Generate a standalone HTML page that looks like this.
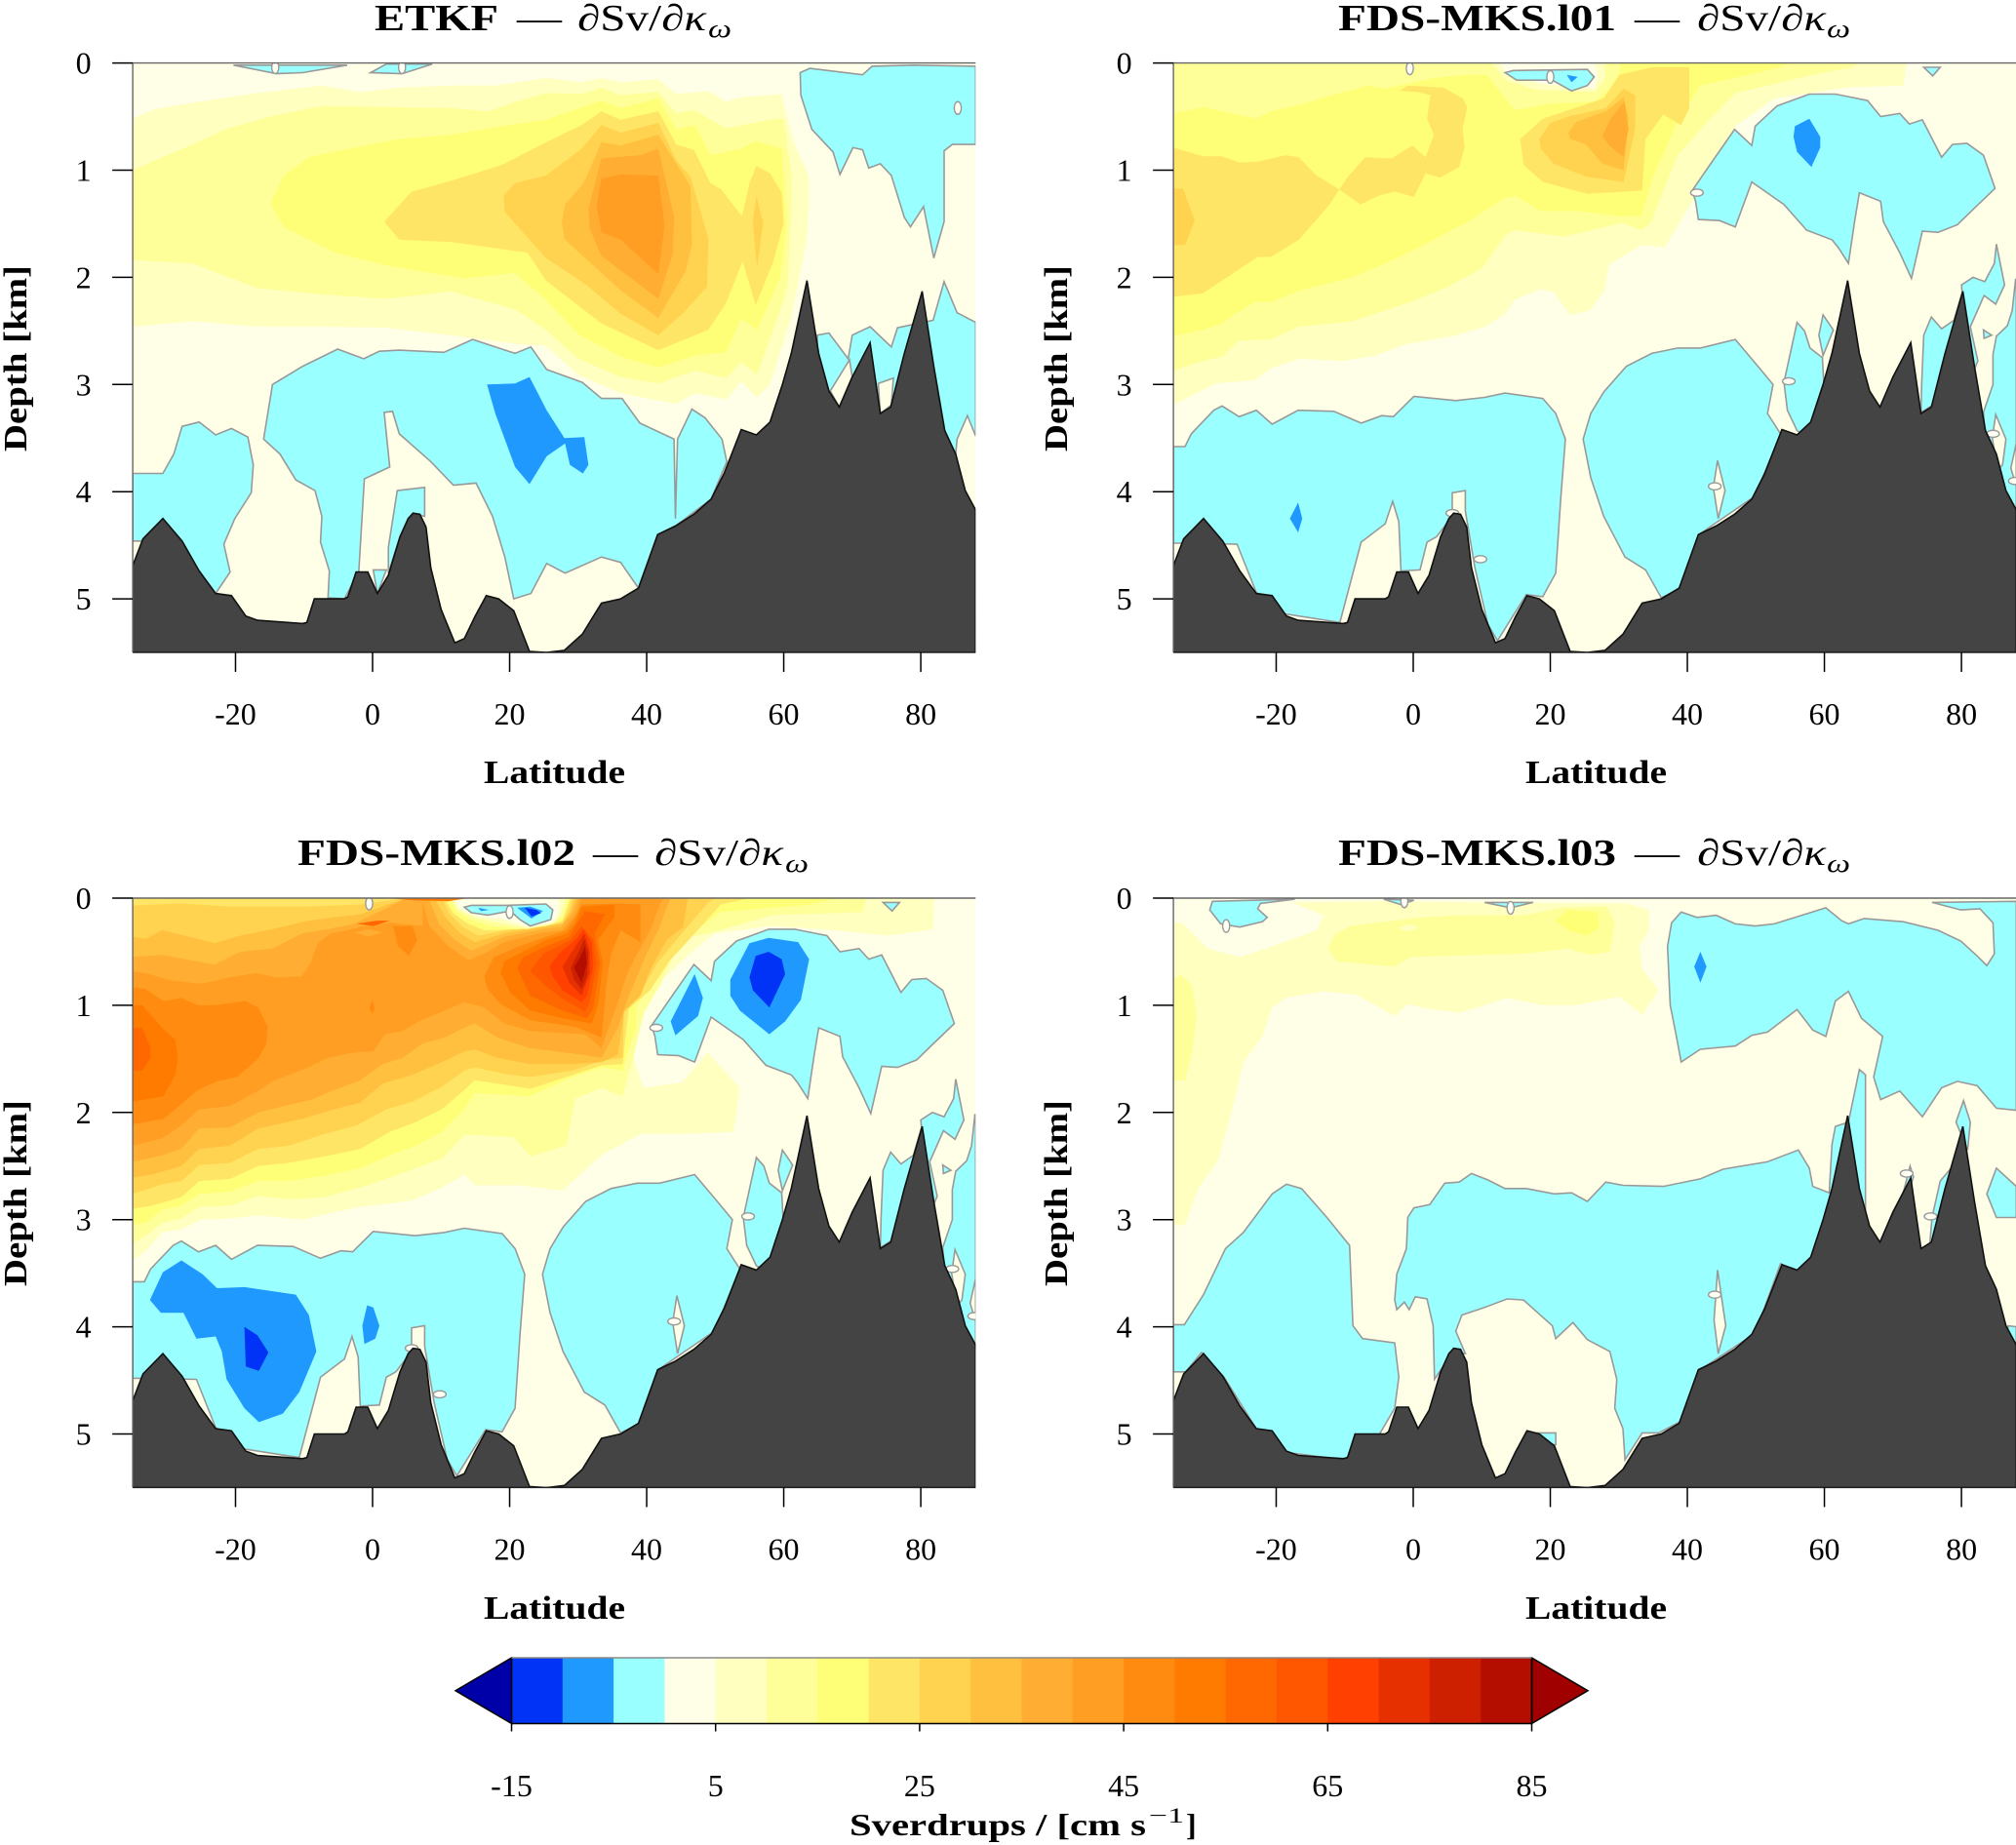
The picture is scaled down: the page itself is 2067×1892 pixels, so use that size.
<!DOCTYPE html>
<html lang="en"><head><meta charset="utf-8"><title>Sverdrup sensitivity sections</title>
<style>
html,body{margin:0;padding:0;background:#fff}
svg{display:block}
text{font-family:"Liberation Serif","DejaVu Serif",serif;fill:#000}
.b{font-weight:bold}
</style></head><body>
<svg id="chart" xmlns="http://www.w3.org/2000/svg" width="2067" height="1892" viewBox="0 0 2067 1892">
<rect width="2067" height="1892" fill="#fff"/>
<g id="panels"></g>
<g font-size="38">
<g><text class="b" x="384" y="31" textLength="127" lengthAdjust="spacingAndGlyphs">ETKF</text><text x="530" y="31" textLength="46" lengthAdjust="spacingAndGlyphs">—</text><text x="592" y="31" textLength="132" lengthAdjust="spacingAndGlyphs">∂Sv/∂<tspan font-style="italic">κ</tspan></text><text x="726" y="38" font-size="26" font-style="italic" textLength="24" lengthAdjust="spacingAndGlyphs">ω</text></g>
<g><text class="b" x="1372" y="31" textLength="285" lengthAdjust="spacingAndGlyphs">FDS-MKS.l01</text><text x="1676" y="31" textLength="46" lengthAdjust="spacingAndGlyphs">—</text><text x="1740" y="31" textLength="132" lengthAdjust="spacingAndGlyphs">∂Sv/∂<tspan font-style="italic">κ</tspan></text><text x="1873" y="38" font-size="26" font-style="italic" textLength="24" lengthAdjust="spacingAndGlyphs">ω</text></g>
<g><text class="b" x="305" y="887" textLength="285" lengthAdjust="spacingAndGlyphs">FDS-MKS.l02</text><text x="608" y="887" textLength="46" lengthAdjust="spacingAndGlyphs">—</text><text x="671" y="887" textLength="132" lengthAdjust="spacingAndGlyphs">∂Sv/∂<tspan font-style="italic">κ</tspan></text><text x="805" y="894" font-size="26" font-style="italic" textLength="24" lengthAdjust="spacingAndGlyphs">ω</text></g>
<g><text class="b" x="1372" y="887" textLength="285" lengthAdjust="spacingAndGlyphs">FDS-MKS.l03</text><text x="1676" y="887" textLength="46" lengthAdjust="spacingAndGlyphs">—</text><text x="1740" y="887" textLength="132" lengthAdjust="spacingAndGlyphs">∂Sv/∂<tspan font-style="italic">κ</tspan></text><text x="1873" y="894" font-size="26" font-style="italic" textLength="24" lengthAdjust="spacingAndGlyphs">ω</text></g>
</g>
<g font-size="34" font-weight="bold">
<text x="496" y="803" textLength="145" lengthAdjust="spacingAndGlyphs">Latitude</text>
<text x="1564" y="803" textLength="145" lengthAdjust="spacingAndGlyphs">Latitude</text>
<text x="496" y="1660" textLength="145" lengthAdjust="spacingAndGlyphs">Latitude</text>
<text x="1564" y="1660" textLength="145" lengthAdjust="spacingAndGlyphs">Latitude</text>
<text transform="translate(27,463) rotate(-90)" textLength="191" lengthAdjust="spacingAndGlyphs">Depth [km]</text>
<text transform="translate(1094,463) rotate(-90)" textLength="191" lengthAdjust="spacingAndGlyphs">Depth [km]</text>
<text transform="translate(27,1319) rotate(-90)" textLength="191" lengthAdjust="spacingAndGlyphs">Depth [km]</text>
<text transform="translate(1094,1319) rotate(-90)" textLength="191" lengthAdjust="spacingAndGlyphs">Depth [km]</text>
</g>
<g id="colorbar"></g>
<g font-size="32" font-weight="bold">
<text x="871" y="1882" textLength="304" lengthAdjust="spacingAndGlyphs">Sverdrups / [cm s</text>
<text x="1178" y="1869" font-size="22" font-weight="normal" textLength="36" lengthAdjust="spacingAndGlyphs">−1</text>
<text x="1216" y="1882">]</text>
</g>
</svg>
<script>
// ---------- shared axis data ----------
const latTicks = [-20, 0, 20, 40, 60, 80];
const depthTicks = [0, 1, 2, 3, 4, 5];
const bandLower = [-20,-15,-10,-5,0,5,10,15,20,25,30,35,40,45,50,55,60,65,70,75,80,85];
const bandColors = ['#0000a8','#0033f5','#2099ff','#99ffff','#ffffe8','#ffffc0','#ffff99','#ffff77','#ffe566','#ffd24f','#ffc040','#ffad33','#ff9e22','#ff8c11','#ff7b00','#ff6800','#ff5600','#ff4000','#e63000','#cc2000','#b30e00','#a00000'];
const colorbarTicks = [-15, 5, 25, 45, 65, 85];
const bathyLat = [-35,-33.5,-30.6,-27.8,-25.3,-22.9,-20.6,-18.5,-16.8,-10.2,-9.6,-8.5,-4.1,-3.6,-2.4,-0.7,0.7,2.3,4,5.2,5.9,6.9,7.8,8.5,10,12,13.4,14.9,16.6,18.4,20.6,22.9,25.4,28,30.6,33.4,36.2,38.8,41.6,44.2,46.9,49.4,51.3,53.8,56,58,59.8,61.1,63.4,65.1,66.6,68.1,70,72.6,74.1,75.6,77.6,80.2,81.9,83.5,85.1,86.5,88];
const bathyDepth = [4.69,4.44,4.25,4.46,4.74,4.95,4.97,5.16,5.2,5.23,5.22,5,5,4.98,4.75,4.75,4.95,4.78,4.42,4.25,4.2,4.21,4.33,4.71,5.1,5.41,5.37,5.17,4.97,5,5.11,5.49,5.5,5.48,5.33,5.04,5,4.9,4.4,4.32,4.21,4.07,3.83,3.42,3.47,3.35,3,2.71,2.03,2.71,3.06,3.21,2.93,2.61,3.27,3.21,2.71,2.13,2.83,3.43,3.65,3.99,4.17];

// ---------- contour data: [band lower bound, [lat,depth,...], outlined?] ----------
const etkfContours = [
[5,[-35,.52,-31.8,.43,-26.2,.37,-16.8,.28,-7.4,.21,-1.8,.27,3.9,.23,11.4,.21,17.9,.21,25.3,.14,30.5,.18,33.4,.14,36.2,.18,41.7,.15,44.3,.29,49,.26,51.6,.36,53.8,.32,59.7,.29,61.4,.73,63.7,1.06,63.7,1.33,63.3,1.67,61,2.4,58,3,56.1,3.12,53.8,2.97,51.6,3.14,47.1,3.08,44.3,3.18,41.7,3.15,36.2,3.08,30,2.91,25.3,2.64,20.8,2.62,11.4,2.54,2,2.47,-7.4,2.46,-16.8,2.46,-26.2,2.41,-35,2.46]],
[10,[-35,1,-31.8,.91,-26.2,.76,-21.5,.62,-14.9,.5,-7.4,.4,2,.41,11.4,.42,17,.45,21,.36,25.3,.28,30.5,.29,33.4,.23,36.2,.3,41.7,.27,44.3,.47,46.9,.44,51.6,.61,58,.53,60,.52,61.1,1.03,61.1,1.36,60.6,2.06,60,2.21,56.1,2.91,53.8,2.79,51.6,2.94,47.1,2.87,44.3,2.93,41.7,2.99,36.2,2.93,30,2.76,25.3,2.49,20.8,2.3,11.4,2.13,2,2.2,-7.4,2.16,-16.8,2.1,-26.2,1.87,-35,1.84]],
[15,[-14.9,1.31,-13,1.05,-9.3,.88,-1.8,.78,3.9,.71,11.4,.67,18.9,.59,25.3,.53,33.4,.35,36.2,.42,41.7,.33,44.3,.62,47.1,.58,49.3,.86,53.8,.8,55.9,.73,59.7,.8,60.4,1.52,59.5,2,56.1,2.49,53.8,2.38,51.6,2.7,47.1,2.73,41.7,2.84,36.2,2.74,30,2.53,25.3,2.21,20.8,1.96,13.2,2.01,2,1.89,-5.5,1.77,-13,1.53]],
[20,[1.7,1.48,5.7,1.2,11.4,1.1,18.9,.95,25.3,.74,30.5,.58,33.4,.45,36.2,.53,41.7,.45,44.3,.76,46.9,.81,49.3,1.12,50.9,1.18,53.9,1.43,55,1.12,56,.96,58,1.03,59.7,1.21,60,1.49,58.5,1.85,55.9,2.26,54,1.85,51.6,2.24,49,2.49,41.7,2.68,33.4,2.43,25.3,2.03,22.6,1.77,11.4,1.67,3.9,1.65]],
[25,[19.1,1.24,20.8,1.12,25.3,1.05,30.5,.8,33.4,.58,36.2,.65,41.7,.56,44.3,.91,46.4,1.06,49,1.64,48.8,2.09,45.2,2.34,41.7,2.54,36.2,2.34,31,2.06,25.3,1.82,19.3,1.39]],
[25,[55.5,1.49,56,1.24,57,1.49,56.1,1.91]],
[30,[27.6,1.49,28.1,1.32,30.8,1.12,33.4,.74,36.2,.77,41.7,.67,46.4,1.15,46.6,1.7,45.7,1.94,41.7,2.38,36.2,2.12,30.5,1.79,28.1,1.65]],
[35,[31.5,1.36,33.4,.89,39.1,.86,41.7,.8,44,1.43,43.8,1.79,41.7,2.2,33.4,1.8,31.7,1.55]],
[40,[32.7,1.33,33.4,1.08,36.2,1.04,41.7,1.05,42.6,1.52,41.7,1.97,36.2,1.65,33.4,1.58]],
[-5,[-35,3.83,-30.6,3.83,-29,3.65,-27.8,3.39,-25.3,3.35,-22.9,3.47,-20.6,3.41,-18.2,3.49,-17.4,3.75,-17.7,4.01,-20.1,4.25,-21.7,4.49,-20.8,4.75,-22.9,4.95,-26.2,4.66,-28,4.46,-35,4.46],true],
[-5,[-15.9,3.51,-14.6,3,-10.2,2.83,-5.1,2.67,-1.3,2.76,1,2.69,3.9,2.68,10.4,2.7,14.6,2.58,20.8,2.71,23.1,2.65,25.4,2.86,30.6,2.98,33.4,3.13,36.4,3.13,39,3.36,44,3.51,44.2,4.25,44.5,3.51,46.6,3.23,48.5,3.31,51,3.51,51.7,3.72,49.4,4.07,44.2,4.32,41.6,4.4,38.8,4.9,36.2,4.66,33.4,4.61,28.1,4.76,25.4,4.67,23.1,4.95,20.6,5,19.3,4.61,17.5,4.23,15.1,3.92,11.8,3.94,8.5,3.72,3.9,3.46,2.9,3.25,1.7,3.26,2.5,3.77,-1.2,3.88,-2,4.74,-4.1,5,-6.5,4.99,-6.3,4.74,-7.6,4.47,-7.4,4.23,-8.4,3.99,-11.2,3.89,-13.5,3.65],true],
[-10,[16.7,3,20.8,2.99,22.9,2.93,25.4,3.24,28,3.5,30.9,3.49,31.5,3.75,30.7,3.83,28.8,3.75,28.1,3.55,25.4,3.67,22.9,3.93,20.8,3.77,17.9,3.27]],
[-5,[3.6,3.99,7.6,3.96,7.6,4.23,5.9,4.2,4,4.42,2.3,4.76,2.3,4.52],true],
[-5,[.1,4.73,2,4.73,.7,4.95],true],
[-5,[62.4,.09,63.8,.05,71.5,.11,72.9,.03,79,.02,88,.03,88,.76,84.6,.76,83.4,.82,83.4,1.48,81.9,1.82,80.4,1.34,78.5,1.53,77.6,1.44,75.7,1.05,74.1,.94,72.4,.98,71.5,.81,70.1,.79,68.2,1.04,67.2,.83,64.1,.62,62.5,.3],true],
[-5,[-20.3,.02,-3.7,.02,-10.2,.09,-14,.1],true],
[-5,[-.3,.09,2,.01,8.7,.01,4.3,.1],true],
[-5,[64.9,2.54,66.6,2.52,69.4,2.76,70,2.54,72.6,2.46,75.7,2.65,76.6,2.47,81.8,2.4,83.4,2.04,85.3,2.33,88,2.42,88,3.48,86.8,3.29,85.3,3.51,85.1,3.65,80,3.4,76,3.4,70,3.4,65,3.2],true],
[0,[66.8,3.06,69.6,2.77,70,2.93,68.1,3.21],true],
[0,[73.8,2.99,76,2.94,75.7,3.19,74.1,3.27],true]
];

const sharedLeftCyan = [-35,3.58,-33.3,3.58,-32.4,3.46,-29.1,3.24,-27.9,3.2,-25.4,3.3,-22.9,3.24,-20.6,3.37,-16.8,3.24,-11.6,3.25,-7.6,3.36,-4.6,3.29,-2.9,3.3,.1,3.11,6.2,3.15,10.4,3.12,13.4,3.08,18.9,3.13,20.8,3.27,22.2,3.51,21.5,4.08,20.8,4.76,18.9,4.98,16.5,4.96,12.3,5.39,10.9,5.24,9,4.71,7.6,4.18,7.6,3.99,5.7,4.01,5.7,4.23,3.4,4.42,2,4.47,1,4.73,-1.8,4.74,-2.1,4.28,-3,4.09,-4.1,4.3,-7.6,4.47,-10.7,5.22,-18.7,5.14,-22.9,4.94,-25.7,4.49,-33,4.48,-35,4.48];
const sharedMidCyan = [24.8,3.51,25.9,3.27,27.8,3.07,31.1,2.83,34.8,2.71,38.6,2.66,41.9,2.66,47,2.58,50.3,2.83,52.5,3,51.7,3.27,53.6,3.46,49.9,4.04,41.9,4.39,39.1,4.9,36.2,4.99,33.9,4.73,30.9,4.61,27.8,4.23,25.9,3.87];
const sharedMidHole = [44.4,3.71,45.5,3.99,44.5,4.25,43.8,3.96];
const sharedUpperCyan = [40.7,1.19,43.3,.95,46.9,.62,49.4,.77,49.9,.59,53.1,.4,57.8,.29,61.6,.29,66.3,.35,68.2,.5,71,.47,72.4,.57,74.3,.53,77.1,.88,78.7,.76,80.8,.75,83.2,.86,84.9,1.17,81.8,1.36,79.4,1.51,76.6,1.58,74.3,1.57,72.7,2.01,71,1.77,68.6,1.48,68.2,1.29,65.1,1.21,64.4,1.48,63.5,1.87,62,1.72,61.1,1.65,57.4,1.56,54.1,1.32,49.4,1.11,47,1.53,44.7,1.47,41.6,1.46,41.2,1.29];
const sharedRightA = [54.1,2.98,56,2.42,57.1,2.5,57.9,2.66,59.7,2.75,60,3.1,58,3.5,56,3.43,54.6,3.24];
const sharedRightB = [59.8,2.35,61.3,2.49,59.8,2.73,59.2,2.54];
const sharedRightC = [74.5,2.54,75.6,2.37,77.1,2.48,78.9,2.4,80.1,2.14,80,2.07,81.7,2,83.4,2.04,84.8,1.87,85.1,1.69,86.3,2.07,85,2.25,83.3,2.17,81.3,2.46,82.4,2.78,81,3,77,3.4,75.6,3.2,74.1,3.26,74.2,2.99];
const sharedRightD = [83.2,2.49,84.4,2.54,83.3,2.57];
const sharedRightE = [87.9,2.02,87.4,2.31,86.7,2.45,85.1,2.55,84.6,2.72,84.6,3,83.2,3.26,83.5,3.5,85,4,87,4.3,88,4.2,88,2.02];
const sharedRightHoleA = [85,3.28,86.5,3.51,86,3.75,85.3,3.8,84.5,3.5];
const sharedRightHoleB = [88,3.55,87.2,3.78,88,3.95];
const sharedTopTiny = [74.5,.04,76.9,.04,75.8,.12];

const l01Contours = [
[5,[-35,3.19,-28.8,2.99,-23.1,2.96,-20.8,2.85,-16.5,2.76,-10.3,2.78,-5.6,2.73,-.8,2.62,5.8,2.55,10.5,2.46,13.4,2.34,14.8,2.21,18.6,2.11,20.5,2.14,22.9,2.35,25.7,2.31,27.9,2.12,28.6,1.88,33.3,1.7,36.7,1.72,40.9,1.27,47,.59,52.7,.33,63,.23,71.5,.21,72,0,-35,0]],
[10,[-35,2.87,-30.7,2.78,-27.9,2.74,-25.5,2.59,-20.8,2.58,-16.7,2.46,-8.9,2.41,-5.6,2.34,-.4,2.23,5.3,2.08,10.1,1.91,13.4,1.61,14.8,1.56,21.9,1.62,26.7,1.55,30.5,1.49,33.3,1.56,34.7,1.49,36.2,1.24,38.6,.86,43.3,.52,47,.28,58.3,.11,64,.04,65,0,-35,0]],
[15,[-35,2.55,-30.7,2.49,-27.9,2.43,-26,2.34,-23.1,2.23,-20.8,2.23,-16.5,2.12,-8.9,2,-2.7,1.83,1.5,1.7,7.7,1.49,13.4,1.26,14.8,1.24,18.6,1.38,23.8,1.38,30.5,1.43,33.3,1.43,35,1.06,38.6,.54,41.9,.21,53.6,.04,54.6,0,30.2,0,30.2,.08,28.6,.24,26.7,.36,20,.38,14.8,.44,10.8,.11,7.7,.11,3,.14,-4.2,.24,-6.5,.21,-11.3,.29,-16,.38,-20.8,.45,-22.9,.52,-30.7,.41,-35,.47]],
[20,[-35,.79,-30.7,.87,-27.9,.87,-25.3,.93,-22.7,.92,-18.6,.86,-16.7,.88,-14.1,1.05,-10.8,1.18,-12.2,1.32,-14.1,1.46,-16.7,1.65,-20.8,1.81,-22.7,1.81,-27.9,2.03,-30.7,2.15,-35,2.18]],
[20,[-10.8,1.18,-9.4,1.05,-7,.88,-3.2,.89,-.1,.77,1.8,.88,3,.67,2,.52,2.5,.3,.6,.27,-2,.26,-.8,.21,4.4,.23,7.2,.33,7.9,.41,7.2,.61,7.5,.79,6.7,.97,3.9,1.07,1.8,1.03,1.1,1.12,.1,1.25,-2.7,1.2,-5.1,1.24,-7.7,1.32]],
[20,[15.6,.71,18.9,.52,23.6,.42,27.8,.33,30.1,.11,34.8,.04,40.3,.04,40.3,.42,39.1,.58,36.5,.48,33.9,.71,33.4,1.19,25.4,1.22,18.9,1.11,16.1,.95]],
[25,[18.4,.71,20,.56,22.6,.5,28.1,.42,30.7,.24,32.4,.3,32.4,.61,30.7,1.11,25.2,1.06,20.5,.94,18.6,.8]],
[25,[-35,1.17,-33.6,1.17,-31.9,1.47,-33.3,1.7,-35,1.7]],
[30,[22.6,.65,23.8,.55,28.1,.45,30.7,.32,31.4,.52,30.7,1,27.6,.94,25.2,.76,22.9,.71]],
[35,[27.6,.68,28.8,.52,30.8,.36,31.4,.61,30.7,.88,28.6,.77]],
[10,[10.8,0,12.8,.2,17,.3,26.7,.3,29,.17,29.5,0]],
[5,[11.5,0,13.5,.16,18,.25,26.5,.27,28,.14,28,0]],
[0,[12.5,0,14,.12,19,.2,26.5,.24,27,.1,26.5,0]],
[-5,[13.4,.09,14.6,.07,25.4,.06,26.4,.13,25.4,.21,23.1,.26,20.3,.16,15.1,.16],true],
[-10,[22.4,.11,24,.13,23.1,.18]],
[-5,sharedTopTiny,true],
[-5,sharedLeftCyan,true],
[-10,[-18,4.25,-16.8,4.1,-16.2,4.25,-16.8,4.38]],
[-5,sharedMidCyan,true],
[0,sharedMidHole,true],
[-5,sharedUpperCyan,true],
[-10,[55.7,.59,57.8,.52,59.4,.69,59.4,.79,58.1,.97,56,.83,55.5,.69]],
[-5,sharedRightA,true],
[-5,sharedRightB,true],
[-5,sharedRightE,true],
[-5,sharedRightC,true],
[-5,sharedRightD,true],
[0,sharedRightHoleA,true],
[0,sharedRightHoleB,true]
];

const l02Contours = [
[5,[-35,3.38,-33.1,3.29,-30.7,3.12,-27.9,3.09,-25,3,-20.8,2.99,-16.7,2.96,-10.3,3,-5.6,2.93,-1.8,2.88,2.5,2.85,5.8,2.82,10.1,2.7,13.4,2.58,14.9,2.68,21.5,2.68,27.7,2.73,33.4,2.4,39.1,2.2,45.3,2.2,52.7,2.18,53.6,1.77,48.9,1.44,45.2,1.72,39.5,1.77,38.1,1.48,39.5,1.1,42.3,.76,46.6,.5,49.9,.33,58.3,.26,67.7,.3,75.2,.35,81.8,.29,82,0,-35,0]],
[10,[-35,3.22,-33.1,3.15,-30.7,3.03,-27.9,2.99,-25.3,2.88,-20.8,2.87,-16.7,2.78,-12.2,2.81,-7,2.79,-1.8,2.7,2.5,2.61,6.3,2.52,10.1,2.43,13.4,2.21,14.9,2.21,20.6,2.23,23,2.41,28.2,2.31,29.6,1.87,33.4,1.77,36.5,1.85,37.8,1.55,38.6,1.33,39.6,1.06,41.9,.82,44.3,.49,45.3,.38,48.9,.33,58.3,.16,71.5,.13,72,0,-35,0]],
[15,[-35,3.05,-33.1,3.03,-30.7,2.91,-27.9,2.87,-25.3,2.76,-20.8,2.74,-16.7,2.64,-12.2,2.64,-7,2.59,-1.8,2.52,2.5,2.4,6.3,2.31,10.1,2.18,13.4,1.97,14.9,1.82,23,1.85,29.1,1.67,33.4,1.58,36.5,1.61,38.4,1.21,38.6,1,41.5,.76,43.4,.55,45.3,.39,50.8,.13,63.9,.06,67.7,0,-35,0]],
[20,[-35,2.9,-32.2,2.87,-27.9,2.79,-25.3,2.64,-20.8,2.62,-16.7,2.5,-12.2,2.47,-7,2.41,-1.8,2.34,2.5,2.18,6.3,2.09,10.1,1.97,13.4,1.79,14.9,1.7,19.2,1.74,23,1.78,29.6,1.64,33.4,1.56,36.5,1.55,37.4,1.03,40.5,.86,43.4,.58,45.3,.45,50.8,.06,55,0,-35,0]],
[25,[-35,2.76,-30.7,2.67,-27.9,2.64,-25.3,2.49,-20.8,2.47,-16.7,2.34,-12.2,2.31,-7.5,2.21,-2.3,2.12,2,1.97,5.8,1.9,10.1,1.76,13.4,1.61,14.9,1.58,19.2,1.64,23,1.67,29.1,1.61,33.4,1.52,36.5,1.49,36.7,1.03,39.1,.88,41.5,.61,44.3,.39,49,.04,50,0,5,0,-1.8,.06,-10,.08,-20.8,.08,-28,.05,-35,.07]],
[30,[-35,2.61,-32.2,2.58,-27.9,2.5,-25.3,2.34,-20.8,2.31,-16.7,2.15,-10.3,2.06,-5.6,1.97,-1.8,1.91,1.5,1.73,5.8,1.65,10.5,1.52,13.4,1.43,14.9,1.41,18.2,1.49,23,1.55,29.1,1.55,33.4,1.53,35.8,1.46,36.7,1.06,39.1,.91,40.5,.67,42.9,.39,45.3,.27,46,0,5,0,-1.8,.15,-9.4,.21,-14.6,.29,-19.3,.35,-23.1,.42,-27.4,.35,-30.7,.3,-33.1,.38,-35,.36]],
[35,[-35,2.46,-30.7,2.4,-27.9,2.34,-25.3,2.15,-20.8,2.14,-16.7,2,-12.2,1.93,-8.9,1.88,-5.6,1.79,-1.8,1.7,1.5,1.55,4.4,1.49,7.2,1.36,10.5,1.3,13.4,1.21,14.9,1.17,18.2,1.3,23,1.4,30.5,1.46,33.4,1.49,35.8,1.21,37.2,.94,38.6,.73,40,.52,41.9,.27,42.9,.09,43.5,0,5,0,-2.7,.24,-6.5,.29,-10.3,.33,-14.6,.47,-19.3,.5,-23.1,.62,-30.7,.53,-35,.55]],
[40,[-35,2.31,-30.7,2.24,-27.9,2.12,-25.3,1.97,-20.8,1.94,-16.5,1.79,-14.6,1.71,-9.4,1.58,-6.5,1.49,-2.7,1.44,.1,1.43,1.8,1.27,4.4,1.24,6.7,1.15,10.1,1.06,13.4,.97,16.3,1.02,19.2,1.17,23,1.24,31,1.27,33.4,1.4,35.8,.97,37.2,.7,38.6,.52,40.5,.3,41.9,.06,42.4,0,7.3,0,7.3,.26,2.6,.23,-1.8,.27,-3.7,.3,-6.1,.33,-8,.42,-9.1,.61,-10.3,.73,-14.1,.74,-17,.7,-20.8,.74,-25,.8,-29.3,.77,-32.6,.71,-35,.68]],
[45,[-35,.83,-33.1,.85,-30.5,.96,-27.9,.93,-25.5,1,-23.1,1,-18.6,.96,-16.7,1.02,-15.3,1.2,-15.5,1.36,-16.7,1.5,-19.8,1.67,-22.7,1.71,-25.5,1.79,-28.8,1.97,-30.5,2.06,-35,2.11]],
[50,[-35,1,-33.6,1,-30.7,1.21,-28.8,1.32,-28.4,1.49,-28.8,1.65,-30.5,1.85,-35,1.9]],
[55,[-35,1.21,-33.6,1.21,-32.4,1.4,-32.4,1.49,-33.6,1.61,-35,1.61]],
[45,[3,.26,5.8,.26,6.5,.39,5.3,.54,3.7,.45]],
[45,[0,.94,.3,1.03,0,1.08,-.5,1.03]],
[35,[-2.7,.32,-.6,.29,1.5,.32,-.6,.36]],
[55,[-2.3,.24,.6,.21,2.5,.21,.1,.26]],
[45,[16.3,.73,17.7,.55,21.3,.45,25.3,.36,28.2,.3,29.6,.18,30.5,.06,35.8,.05,39.1,.06,39.1,.41,36.2,.3,34.8,.52,34.1,.82,33.4,1.3,29.6,1.2,23,1.14,18.7,.99,16.8,.85]],
[50,[18.7,.7,19.2,.59,21.3,.52,25.3,.39,28.4,.33,29.6,.23,30.5,.08,35.3,.06,35.3,.18,32.9,.39,33.6,.61,32.9,1,32,1.17,27.7,1.12,23,1.05,20.1,.88]],
[55,[21.1,.65,22,.55,25.3,.45,28.7,.36,30.1,.21,31,.12,33.9,.15,32.4,.33,33.2,.61,32.2,1.03,31.3,1.12,27.7,1.05,23,.91]],
[60,[23,.68,24.9,.52,28.9,.39,30.5,.26,32.2,.39,32.7,.61,31.7,.97,31,1.06,27.7,.94,25.3,.82]],
[65,[25.8,.64,27.2,.52,29.6,.39,30.8,.29,32,.42,32.2,.64,31.3,.91,30.5,.97,27.7,.86,26.3,.73]],
[70,[27.7,.64,29.6,.45,30.9,.33,31.7,.49,31.7,.7,30.5,.91,28.7,.79]],
[75,[28.9,.65,30.1,.5,30.9,.38,31.5,.52,31.3,.73,30.5,.85,29.4,.76]],
[80,[29.4,.65,30.3,.55,31,.45,31.3,.61,30.5,.79]],
[35,[7.3,.03,8.3,.26,11.1,.45,14,.58,16.8,.5,19.2,.41,24.9,.32,27.7,.3,29.6,.15,30.5,0,7.3,0]],
[30,[8.3,.015,9.7,.24,12,.39,14.4,.49,19.2,.36,24.9,.29,27.5,.27,29.1,.14,30.1,0,8.3,0]],
[25,[9.2,.015,10.6,.18,12.8,.33,14.9,.41,19.2,.33,24.9,.27,27.7,.24,28.9,.12,29.6,0,9.2,0]],
[20,[10.2,.015,11.3,.15,13.2,.27,15.4,.35,19.6,.3,24.9,.26,27.7,.23,28.7,.11,29.2,0,10.2,0]],
[15,[10.6,.015,11.8,.14,13.7,.23,16.3,.3,21.5,.29,25.3,.26,27.7,.21,28.4,.09,28.9,0,10.6,0]],
[10,[11.1,.015,12.3,.12,14.2,.2,17.3,.26,22.5,.29,26.3,.24,27.7,.17,28.2,.08,28.6,0,11.1,0]],
[5,[11.6,.015,12.5,.11,14.7,.18,18.2,.23,22.7,.28,26.3,.24,27.5,.15,27.9,.06,28.2,0,11.6,0]],
[0,[12,.024,13,.11,15.4,.17,19.2,.2,23,.27,26.5,.22,27.2,.14,27.2,.03,26.8,0,12,0]],
[-5,[13.4,.085,14.4,.067,19.4,.067,25.3,.055,26.3,.11,26,.2,23,.26,21.5,.2,20.1,.12,16.8,.158,14.4,.136],true],
[-10,[21.1,.09,23,.08,24.9,.12,23.2,.19]],
[-15,[22.2,.09,23.9,.11,24.6,.14,23.2,.17]],
[-10,[15.4,.09,17,.11,15.8,.12]],
[50,[2,0,6,.02,11,.03,14,0]],
[-5,sharedTopTiny,true],
[-5,sharedLeftCyan,true],
[-10,[-32.5,3.75,-30.6,3.49,-27.9,3.38,-24.8,3.51,-22.7,3.64,-18.7,3.63,-11.2,3.7,-9.3,3.89,-8.2,4.23,-10.7,4.61,-13.1,4.81,-16.6,4.89,-18.7,4.76,-21.3,4.49,-22,4.23,-22.9,4.09,-25.7,4.11,-27.6,3.87,-30.9,3.87]],
[-15,[-18.7,4,-16.8,4.08,-15.2,4.24,-16.6,4.41,-18.5,4.37]],
[-10,[-.8,3.8,.1,3.82,1,3.99,.4,4.11,-1.2,4.16,-1.5,3.99]],
[-5,sharedMidCyan,true],
[0,sharedMidHole,true],
[-5,sharedUpperCyan,true],
[-10,[47,.71,48.2,.93,47.5,1.1,44.2,1.28,43.5,1.15]],
[-10,[52.2,.76,55,.42,57.8,.37,62.1,.41,63.7,.57,62.5,.95,60.2,1.15,57.9,1.27,53.6,1.05,52.2,.91]],
[-15,[55,.74,55.9,.54,57.8,.5,59.7,.57,60.2,.71,57.9,1.02,55.5,.86]],
[-5,sharedRightA,true],
[-5,sharedRightB,true],
[-5,sharedRightE,true],
[-5,sharedRightC,true],
[-5,sharedRightD,true],
[0,sharedRightHoleA,true],
[0,sharedRightHoleB,true]
];

const l03Contours = [
[5,[-35,3.05,-33.3,3.05,-31.4,2.71,-28.5,2.45,-26.2,1.92,-24.8,1.53,-22,1.29,-20.7,1.03,-18.7,.93,-13.1,.87,-8.4,.9,-2.7,1.1,-.8,.99,2,1.03,6.7,1.07,10.4,1,13.7,.93,18.9,1,23.6,1,30.1,.92,33.4,1.09,35.8,.86,33.4,.66,33,.45,34.4,.3,34.4,.11,31.1,.05,11.4,.04,-4.6,.03,-17.7,.04,-13.1,.16,-14,.3,-21.5,.47,-25.3,.55,-30,.47,-33.7,.23,-35,.23]],
[10,[-12.4,.47,-11.6,.35,-9.3,.26,-2.7,.21,1,.18,6.7,.16,16.1,.16,21.7,.09,28.3,.08,29.4,.23,28.7,.5,25.9,.53,22.6,.47,16.1,.52,4.8,.54,-.4,.55,-2.7,.64,-11.2,.59]],
[10,[-35,.75,-33.8,.72,-32.3,.81,-31.6,1.1,-32.3,1.44,-33.3,1.7,-35,1.7]],
[15,[20.8,.21,22.6,.11,26.9,.13,27.1,.28,25.4,.35,22.6,.3]],
[5,[-2.3,.28,-.4,.24,.8,.28,-.8,.31]],
[-5,[-29.3,.03,-17.3,.01,-22.3,.05,-22.7,.1,-21.3,.18,-22,.22,-25.3,.27,-28.1,.24,-29.7,.11],true],
[-5,[-4.3,.01,.1,.02,-1.8,.06],true],
[-5,[10.4,.04,17.5,.04,14.2,.09],true],
[-5,[39.1,.13,41.4,.18,44.2,.16,47,.24,49.9,.26,52.7,.24,60.2,.09,62.5,.21,63.5,.24,65.8,.19,71.5,.22,76.6,.3,79.9,.4,82.3,.54,83.7,.63,84.8,.52,84.6,.23,82.7,.1,79.9,.11,75.7,.04,88,.03,88,1.98,85.1,1.96,82.3,1.75,79.4,1.71,77.1,1.77,74.3,2.04,71,1.8,68.2,1.88,67.2,1.67,68.5,1.29,65.4,1.12,63.5,.87,61.6,.96,60.2,1.29,58.3,1.23,56,1.04,51.7,1.25,49.4,1.28,47,1.38,41.9,1.41,39.1,1.53,38.4,1.29,37.5,1,37.1,.45,37.7,.23],true],
[-10,[41.9,.5,42.8,.64,41.9,.79,41,.64]],
[-5,[-35,3.98,-33.4,3.98,-30.6,3.7,-27.4,3.27,-24.8,3.12,-20.6,2.76,-18.5,2.67,-16.3,2.71,-12.6,2.98,-9.3,3.24,-8.8,3.99,-7.4,4.11,-2.7,4.15,-2.1,4.47,-2.7,4.76,-5.1,5.02,-10.2,5.24,-18.7,5.17,-22.9,4.95,-27.6,4.47,-30.9,4.24,-33.2,4.42,-35,4.42],true],
[-5,[-2.4,3.51,-1,3.27,-.8,2.98,.1,2.89,2.4,2.86,4.6,2.66,6.7,2.65,8.5,2.57,10.9,2.63,13.4,2.71,16.5,2.71,20.6,2.76,23.1,2.75,25.4,2.83,28.1,2.65,30.6,2.68,36.5,2.69,41.9,2.62,45.2,2.53,51.7,2.46,56.2,2.35,57.8,2.52,58.3,2.69,60.7,2.75,61.1,2.3,61.6,2.13,63.5,2.09,65.1,1.6,66,1.65,66,2.06,66,3.02,67.7,3.22,60,3.6,53.6,3.41,49.9,4.06,41.9,4.4,39.1,4.88,35.8,4.99,33.4,4.99,30.9,5.24,30.6,4.95,29.4,4.76,29.7,4.49,28.7,4.23,25.4,4.12,23.3,3.96,20.8,4.11,20.3,3.99,16.1,3.75,13.7,3.74,10.4,3.82,7.1,3.89,6.2,4.04,7.6,4.25,5.7,4.24,3.1,4.49,2.9,3.99,2,3.74,.3,3.72,-.6,3.84,-1.3,3.77,-2.4,3.84,-2.7,3.75],true],
[0,[44.4,3.47,45.6,3.99,44.5,4.25,43.9,3.94],true],
[-5,[79.2,2.09,80.3,1.89,81.3,2.09,80.9,2.35],true],
[-5,[83.7,2.76,85.1,2.52,88,2.69,88,2.98,85.1,2.98],true],
[-5,[86.8,3.99,88,4,88,4.3,86.5,4.3],true],
[-5,[75.4,3.21,75.7,2.98,76.9,2.64,78.5,2.52,80,2.5,79,3,76,3.3],true],
[-5,[72.5,2.5,73,2.6,71,3,70.5,3],true],
[-5,[16.5,4.99,20.8,4.99,20.8,5.1,18,5.1],true]
];

// contour-label ovals: lat, depth, orientation (0 horizontal, 1 vertical)
const etkfOvals = [[-14.2,.04,1],[4.3,.04,1],[85.4,.42,1]];
const l01Ovals = [[-.5,.05,1],[20,.13,1],[41.4,1.21,0],[54.8,2.97,0],[44,3.95,0],[5.7,4.2,0],[9.8,4.63,0],[84.6,3.46,0],[87.8,3.9,0]];
const l02Ovals = [[-.5,.05,1],[20,.13,1],[41.4,1.21,0],[54.8,2.97,0],[44,3.95,0],[5.7,4.2,0],[9.8,4.63,0],[84.6,3.46,0],[87.8,3.9,0]];
const l03Ovals = [[-27.3,.26,1],[-1.3,.03,1],[14.2,.09,1],[44,3.7,0],[72,2.57,0],[75.5,2.97,0]];

// ---------- drawing ----------
const NS = 'http://www.w3.org/2000/svg';
function mk(tag, parent, props) {
  const e = document.createElementNS(NS, tag);
  for (const k in props) e.setAttribute(k, props[k]);
  parent.appendChild(e);
  return e;
}
const latMin = -35, latMax = 88, depthMax = 5.5;
const pxPerLat = 7.026, pxPerKm = 109.9;
function bandColor(level) { return bandColors[bandLower.indexOf(level)]; }
function pathOf(flat, xf, yf) {
  let s = '';
  for (let i = 0; i < flat.length; i += 2) s += (i ? 'L' : 'M') + xf(flat[i]).toFixed(1) + ' ' + yf(flat[i + 1]).toFixed(1);
  return s + 'Z';
}
const panelDefs = [
  { id: 'etkf', x0: 382, top: 64.6, contours: etkfContours, ovals: etkfOvals },
  { id: 'l01', x0: 1449, top: 64.6, contours: l01Contours, ovals: l01Ovals },
  { id: 'l02', x0: 382, top: 921, contours: l02Contours, ovals: l02Ovals },
  { id: 'l03', x0: 1449, top: 921, contours: l03Contours, ovals: l03Ovals }
];
const root = document.getElementById('panels');
const defs = mk('defs', root, {});
panelDefs.forEach(function (p) {
  const xf = function (lat) { return p.x0 + lat * pxPerLat; };
  const yf = function (d) { return p.top + d * pxPerKm; };
  const left = xf(latMin), right = xf(latMax), top = yf(0), bottom = yf(depthMax);
  const clip = mk('clipPath', defs, { id: 'clip-' + p.id });
  mk('rect', clip, { x: left, y: top, width: right - left, height: bottom - top });
  const g = mk('g', root, {});
  
  
  const plot = mk('g', g, { 'clip-path': 'url(#clip-' + p.id + ')' });
  
  
  const bg = mk('rect', plot, { x: left, y: top, width: right - left, height: bottom - top, fill: bandColor(0) });
  
  
  p.contours.forEach(function (c) {
    const props = { d: pathOf(c[1], xf, yf), fill: bandColor(c[0]) };
    if (c[2]) { props.stroke = '#999'; props['stroke-width'] = '1.6'; }
    const shape = mk('path', plot, props);
    
    
  });
  p.ovals.forEach(function (o) {
    const oval = mk('ellipse', plot, { cx: xf(o[0]), cy: yf(o[1]), rx: o[2] ? 3.6 : 6.5, ry: o[2] ? 6.5 : 3.6, fill: '#fffff4', stroke: '#999', 'stroke-width': '1.4' });
    
    
  });
  let d = 'M' + left + ' ' + bottom;
  bathyLat.forEach(function (lat, i) { d += 'L' + xf(lat).toFixed(1) + ' ' + yf(bathyDepth[i]).toFixed(1); });
  d += 'L' + right + ' ' + bottom + 'Z';
  const bathy = mk('path', plot, { d: d, fill: '#444444', stroke: '#111', 'stroke-width': '1.6' });
  
  
  const frame = mk('path', g, { d: 'M' + left + ' ' + bottom + 'V' + top + 'H' + right, fill: 'none', stroke: '#666', 'stroke-width': '1.4' });
  
  
  const base = mk('path', g, { d: 'M' + left + ' ' + bottom + 'H' + right, fill: 'none', stroke: '#222', 'stroke-width': '1.4' });
  
  
  latTicks.forEach(function (v) {
    const t = mk('path', g, { d: 'M' + xf(v) + ' ' + bottom + 'v20', stroke: '#000', 'stroke-width': '1.5' });
    
    
    const l = mk('text', g, { x: xf(v), y: bottom + 74, 'text-anchor': 'middle', 'font-size': '32' });
    
    
    l.textContent = v;
  });
  depthTicks.forEach(function (v) {
    const t = mk('path', g, { d: 'M' + left + ' ' + yf(v) + 'h-21', stroke: '#000', 'stroke-width': '1.5' });
    
    
    const l = mk('text', g, { x: left - 50.5, y: yf(v) + 11, 'text-anchor': 'middle', 'font-size': '32' });
    
    
    l.textContent = v;
  });
});

// colorbar
const cb = document.getElementById('colorbar');
const cbLeft = 524.5, cbRight = 1570.5, cbTop = 1700, cbBottom = 1767.5, cbMin = -15, cbMax = 85;
function cbX(v) { return cbLeft + (v - cbMin) / (cbMax - cbMin) * (cbRight - cbLeft); }
bandLower.forEach(function (low, i) {
  let s;
  if (low < cbMin) {
    s = mk('path', cb, { d: 'M' + cbLeft + ' ' + cbTop + 'L467 ' + (cbTop + cbBottom) / 2 + 'L' + cbLeft + ' ' + cbBottom + 'Z', fill: bandColors[i], stroke: '#000', 'stroke-width': '1.5' });
  } else if (low >= cbMax) {
    s = mk('path', cb, { d: 'M' + cbRight + ' ' + cbTop + 'L1628 ' + (cbTop + cbBottom) / 2 + 'L' + cbRight + ' ' + cbBottom + 'Z', fill: bandColors[i], stroke: '#000', 'stroke-width': '1.5' });
  } else {
    s = mk('rect', cb, { x: cbX(low), y: cbTop, width: cbX(low + 5) - cbX(low) + .4, height: cbBottom - cbTop, fill: bandColors[i] });
  }
  
  
});
const cbFrame = mk('path', cb, { d: 'M' + cbLeft + ' ' + cbBottom + 'V' + cbTop + 'M' + cbRight + ' ' + cbTop + 'V' + cbBottom + 'M' + cbLeft + ' ' + cbBottom + 'H' + cbRight, fill: 'none', stroke: '#000', 'stroke-width': '1.6' });


const cbTopLine = mk('path', cb, { d: 'M' + cbLeft + ' ' + cbTop + 'H' + cbRight, stroke: '#888', 'stroke-width': '1.4' });


colorbarTicks.forEach(function (v) {
  const t = mk('path', cb, { d: 'M' + cbX(v) + ' ' + cbBottom + 'v8', stroke: '#000', 'stroke-width': '1.5' });
  
  
  const l = mk('text', cb, { x: cbX(v), y: 1842, 'text-anchor': 'middle', 'font-size': '32' });
  
  
  l.textContent = v;
});
</script>
</body></html>
